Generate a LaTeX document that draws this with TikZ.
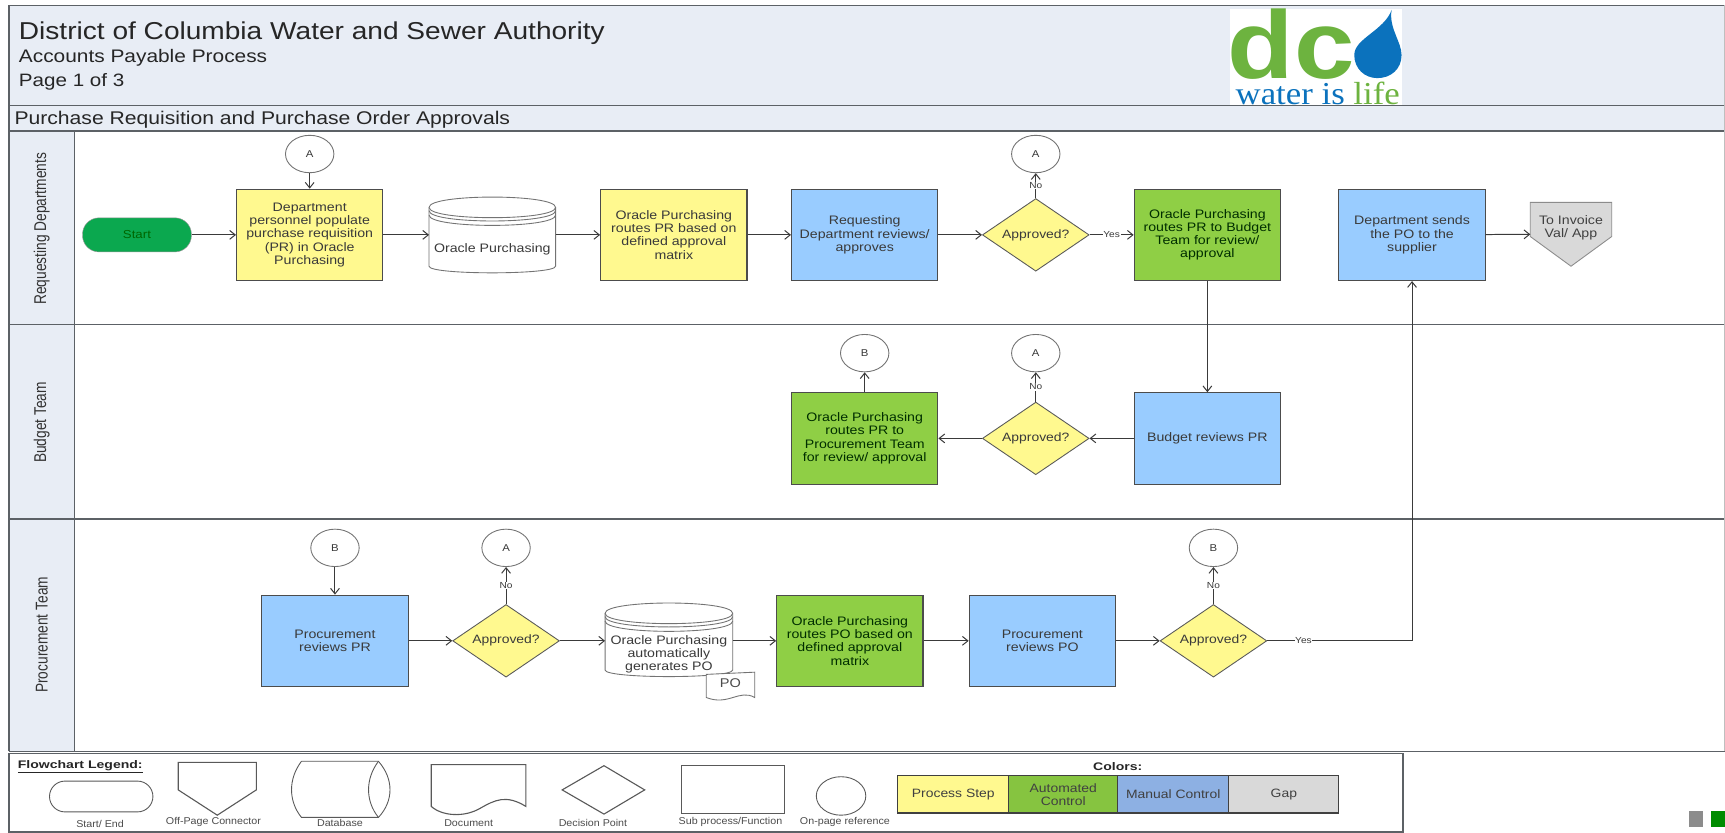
\documentclass[tikz,border=0pt]{standalone}
\usepackage{fontspec}
\setmainfont[FakeStretch=1.15]{Liberation Sans}
\newfontfamily\logoserif{Liberation Serif}
\usetikzlibrary{arrows.meta,shapes.geometric}
\definecolor{hdr}{HTML}{E8EDF5}
\definecolor{frm}{HTML}{5C6166}
\definecolor{yel}{HTML}{FFF98F}
\definecolor{grn}{HTML}{8FCF45}
\definecolor{blu}{HTML}{99CCFF}
\definecolor{lblu}{HTML}{8DB0E3}
\definecolor{lgrn}{HTML}{86C440}
\definecolor{gapc}{HTML}{D9D9D9}
\definecolor{startc}{HTML}{0BA84F}
\definecolor{ink}{HTML}{3A3A3A}
\definecolor{logog}{HTML}{6DB33F}
\definecolor{logob}{HTML}{0B72BD}
\newcommand\fsz[1]{\fontsize{#1}{#1}\selectfont}
\newcommand\legtxt[1]{\scalebox{0.94}[1]{\fontsize{9}{10}\selectfont #1}}
\newcommand\lanetxt[1]{\scalebox{0.7}[1]{\fontsize{15.5}{16}\selectfont #1}}
\newcommand\dbshape[4]{%
  \draw[dbline,fill=white] (#1,#3+9.5) .. controls (#1,#3-3) and (#2,#3-3) .. (#2,#3+9.5)
     -- (#2,#4-6) .. controls (#2,#4+2) and (#1,#4+2) .. (#1,#4-6) -- cycle;
  \draw[dbline] (#1,#3+9.5) .. controls (#1,#3+22) and (#2,#3+22) .. (#2,#3+9.5);
  \draw[dbline] (#1,#3+12.5) .. controls (#1,#3+25) and (#2,#3+25) .. (#2,#3+12.5);
  \draw[dbline] (#1,#3+16.5) .. controls (#1,#3+29) and (#2,#3+29) .. (#2,#3+16.5);
}
\tikzset{
  x=1pt,y=-1pt,
  >={Straight Barb[length=5pt,width=8pt]},
  conn/.style={->,draw=ink,line width=0.9pt},
  frameline/.style={draw=frm,line width=1.6pt},
  legline/.style={draw=black!65,line width=0.8pt},
  dbline/.style={draw=black!55,line width=0.8pt},
  procbox/.style={rectangle,draw=black!70,line width=1pt,minimum width=133pt,minimum height=83pt,inner sep=0pt,align=center,text=ink,font=\fontsize{11.2}{12}\selectfont},
  yelbox/.style={procbox,fill=yel},
  grnbox/.style={procbox,fill=grn,text=black!70!green!60!black},
  blubox/.style={procbox,fill=blu},
  decis/.style={diamond,aspect=1.45,draw=black!65,line width=0.8pt,fill=yel,minimum width=97pt,minimum height=66pt,inner sep=0pt,text=ink,font=\fontsize{11}{12}\selectfont},
  refnode/.style={ellipse,draw=black!55,line width=0.8pt,fill=white,minimum width=44pt,minimum height=34pt,inner sep=0pt,text=ink,font=\fontsize{9}{10}\selectfont},
  smalllab/.style={fill=white,inner sep=0.6pt,text=ink,font=\fontsize{8}{9}\selectfont},
  txtonly/.style={inner sep=0pt,align=center,text=ink,font=\fontsize{11.2}{12}\selectfont},
  anch/.style={rectangle,inner sep=0pt,outer sep=0pt},
  headtxt/.style={anchor=base west,inner sep=0pt,text=black!85},
  legcell/.style={rectangle,draw=black!75,line width=1pt,minimum height=34pt,inner sep=0pt,align=center,text=black!75},
  leglab/.style={inner sep=0pt,text=black!70},
}
\begin{document}
\begin{tikzpicture}
\useasboundingbox (0,0) rectangle (1568,757);
% header and lanes
\fill[white] (0,0) rectangle (1568,757);
\fill[hdr] (8,5) rectangle (1568,119);
\fill[hdr] (8,119) rectangle (68,683);
\draw[frameline] (8,683) -- (8,5) -- (1568,5);
\draw[frameline] (8,96) -- (1568,96);
\draw[frameline] (8,119) -- (1568,119);
\draw[frameline] (8,295) -- (1568,295);
\draw[frameline] (8,472) -- (1568,472);
\draw[frameline] (8,683) -- (1568,683);
\draw[draw=frm,line width=1pt] (68,119) -- (68,683);
\draw[draw=black!25,line width=0.6pt] (1567.5,5) -- (1567.5,683);
% header texts
\node[headtxt,font=\fsz{22.2}] (title) at (17,36) {District of Columbia Water and Sewer Authority};
\node[headtxt,font=\fsz{16.5}] (sub) at (17,57) {Accounts Payable Process};
\node[headtxt,font=\fsz{16.3}] (page) at (17,79) {Page 1 of 3};
\node[headtxt,font=\fsz{16.7}] (sect) at (13,113.5) {Purchase Requisition and Purchase Order Approvals};
% logo
\fill[white] (1118,8) rectangle (1274,95.3);
\node[anchor=base west,inner sep=0pt,text=logog,font=\fontsize{76}{76}\bfseries\selectfont] (logodc) at (1116,71) {\scalebox{1.13}[1.15]{dc}};
\fill[logob] (1265,9) .. controls (1262,25) and (1274,38) .. (1274,50) .. controls (1274,63) and (1264,71) .. (1252,71) .. controls (1240,71) and (1231,62) .. (1231,50) .. controls (1231,35) and (1258,28) .. (1265,9);
\node[anchor=base west,inner sep=0pt,font=\fontsize{29}{29}\logoserif\selectfont] (logotxt) at (1123,95) {\scalebox{1.09}[1]{\textcolor{logob}{water is }\textcolor{logog}{life}}};
% lane labels
\node[rotate=90,inner sep=0pt,text=black!80] (l1) at (38,208) {\lanetxt{Requesting Departments}};
\node[rotate=90,inner sep=0pt,text=black!80] (l2) at (38,384) {\lanetxt{Budget Team}};
\node[rotate=90,inner sep=0pt,text=black!80] (l3) at (38,577) {\lanetxt{Procurement Team}};
% lane 1
\node[rectangle,rounded corners=15pt,draw=black!40,fill=startc,minimum width=99pt,minimum height=31pt,inner sep=0pt,text=green!40!black,font=\fontsize{10.5}{12}\selectfont] (start) at (124.5,213.5) {Start};
\node[refnode] (a1) at (281.5,140) {A};
\node[yelbox] (b1) at (281.5,213.5) {Department\\personnel populate\\purchase requisition\\(PR) in Oracle\\Purchasing};
\node[anch,minimum width=115pt,minimum height=69pt] (db1) at (447.5,213.5) {};
\dbshape{390}{505}{179}{248}
\node[txtonly] (db1t) at (447.5,227) {Oracle Purchasing};
\node[yelbox] (b2) at (612.5,213.5) {Oracle Purchasing\\routes PR based on\\defined approval\\matrix};
\node[blubox] (b3) at (786,213.5) {Requesting\\Department reviews/\\approves};
\node[decis] (d1) at (941.5,213.5) {Approved?};
\node[refnode] (a2) at (941.5,140) {A};
\node[grnbox] (b4) at (1097.5,213.5) {Oracle Purchasing\\routes PR to Budget\\Team for review/\\approval};
\node[blubox] (b5) at (1283.5,213.5) {Department sends\\the PO to the\\supplier};
\node[anch,minimum width=74pt,minimum height=58pt] (off) at (1428,213) {};
\draw[draw=black!45,line width=0.8pt,fill=gapc] (off.north west) -- (off.north east) -- (1465,215) -- (off.south) -- (1391,215) -- cycle;
\node[txtonly,text=black!75] (offt) at (1428,207) {To Invoice\\Val/ App};
% lane 2
\node[refnode] (b6) at (786,321) {B};
\node[refnode] (a3) at (941.5,321) {A};
\node[grnbox] (c1) at (786,398.5) {Oracle Purchasing\\routes PR to\\Procurement Team\\for review/ approval};
\node[decis] (d2) at (941.5,398.5) {Approved?};
\node[blubox] (c2) at (1097.5,398.5) {Budget reviews PR};
% lane 3
\node[refnode] (b7) at (304.5,498) {B};
\node[refnode] (a4) at (460,498) {A};
\node[refnode] (b8) at (1103,498) {B};
\node[blubox] (e1) at (304.5,582.5) {Procurement\\reviews PR};
\node[decis] (d3) at (460,582.5) {Approved?};
\node[anch,minimum width=116pt,minimum height=67pt] (db2) at (608,582.5) {};
\dbshape{550}{666}{548}{615}
\node[txtonly] (db2t) at (608,595) {Oracle Purchasing\\automatically\\generates PO};
\draw[draw=black!55,line width=0.8pt,fill=white] (642,613) -- (686,611) -- (686,634) .. controls (672,626) and (662,642) .. (642,634) -- cycle;
\node[inner sep=0pt,text=black!70,font=\fontsize{11.5}{12}\selectfont] (podoc) at (664,621) {PO};
\node[grnbox] (e2) at (772.5,582.5) {Oracle Purchasing\\routes PO based on\\defined approval\\matrix};
\node[blubox] (e3) at (947.5,582.5) {Procurement\\reviews PO};
\node[decis] (d4) at (1103,582.5) {Approved?};
% connectors
\draw[conn] (start) -- (b1);
\draw[conn] (a1) -- (b1);
\draw[conn] (b1) -- (db1);
\draw[conn] (db1) -- (b2);
\draw[conn] (b2) -- (b3);
\draw[conn] (b3) -- (d1);
\draw[conn] (d1.north) -- (a2.south) node[midway,smalllab] (no1) {No};
\draw[conn] (d1.east) -- (b4.west) node[midway,smalllab] (yes1) {Yes};
\draw[conn] (b5) -- (off.west);
\draw[conn] (b4) -- (c2);
\draw[conn] (c2) -- (d2);
\draw[conn] (d2) -- (c1);
\draw[conn] (d2.north) -- (a3.south) node[midway,smalllab] (no2) {No};
\draw[conn] (c1) -- (b6);
\draw[conn] (b7) -- (e1);
\draw[conn] (e1) -- (d3);
\draw[conn] (d3.north) -- (a4.south) node[midway,smalllab] (no3) {No};
\draw[conn] (d3) -- (db2);
\draw[conn] (db2) -- (e2);
\draw[conn] (e2) -- (e3);
\draw[conn] (e3) -- (d4);
\draw[conn] (d4.north) -- (b8.south) node[midway,smalllab] (no4) {No};
\draw[conn] (d4.east) -| (b5.south) node[pos=0.125,smalllab] (yes2) {Yes};
% legend
\draw[frameline,fill=white] (8,685) rectangle (1275,756);
\node[anchor=west,inner sep=0pt,text=black!85] (legt) at (16,697) {\scalebox{1.11}[1]{\fontsize{10}{11}\bfseries\selectfont\underline{Flowchart Legend:}}};
\draw[legline,rounded corners=14pt] (45,710) rectangle (139,738);
\draw[legline,line width=1pt] (162,693) -- (233,693) -- (233,718) -- (197.5,741) -- (162,718) -- cycle;
\draw[legline] (274,692) -- (344,692) .. controls (358,708) and (358,728) .. (344,743) -- (274,743) .. controls (262,728) and (262,708) .. (274,692);
\draw[legline] (344,692) .. controls (332,708) and (332,728) .. (344,743);
\draw[legline,line width=1pt] (392,695) -- (478,695) -- (478,733) .. controls (460,722) and (450,727) .. (436,735) .. controls (422,743) and (402,742) .. (392,733) -- cycle;
\draw[legline,line width=1pt] (549,696) -- (586,718) -- (549,740) -- (511,718) -- cycle;
\draw[legline] (619,696) rectangle (713,739);
\draw[legline] (764.5,723.5) ellipse [x radius=22.5,y radius=17.5];
\node[leglab] (ls1) at (91,749) {\legtxt{Start/ End}};
\node[leglab] (ls2) at (194,747) {\legtxt{Off-Page Connector}};
\node[leglab] (ls3) at (309,748) {\legtxt{Database}};
\node[leglab] (ls4) at (426,748) {\legtxt{Document}};
\node[leglab] (ls5) at (539,748) {\legtxt{Decision Point}};
\node[leglab] (ls6) at (664,747) {\legtxt{Sub process/Function}};
\node[leglab] (ls7) at (768,747) {\legtxt{On-page reference}};
\node[inner sep=0pt,text=black!85] (colt) at (1016,697) {\scalebox{1.11}[1]{\fontsize{10}{11}\bfseries\selectfont Colors:}};
\node[legcell,fill=yel,minimum width=101pt,font=\fontsize{11}{12}\selectfont] (k1) at (866.5,722) {Process Step};
\node[legcell,fill=lgrn,minimum width=99pt,font=\fontsize{11}{12}\selectfont] (k2) at (966.5,722) {Automated\\Control};
\node[legcell,fill=lblu,minimum width=101pt,font=\fontsize{11}{12}\selectfont] (k3) at (1066.5,722) {Manual Control};
\node[legcell,fill=gapc,minimum width=100pt,font=\fontsize{11}{12}\selectfont] (k4) at (1167,722) {Gap};
% corner squares
\fill[black!45] (1535,737) rectangle (1548,752);
\fill[green!55!black] (1555,737) rectangle (1568,752);
\end{tikzpicture}
\end{document}
